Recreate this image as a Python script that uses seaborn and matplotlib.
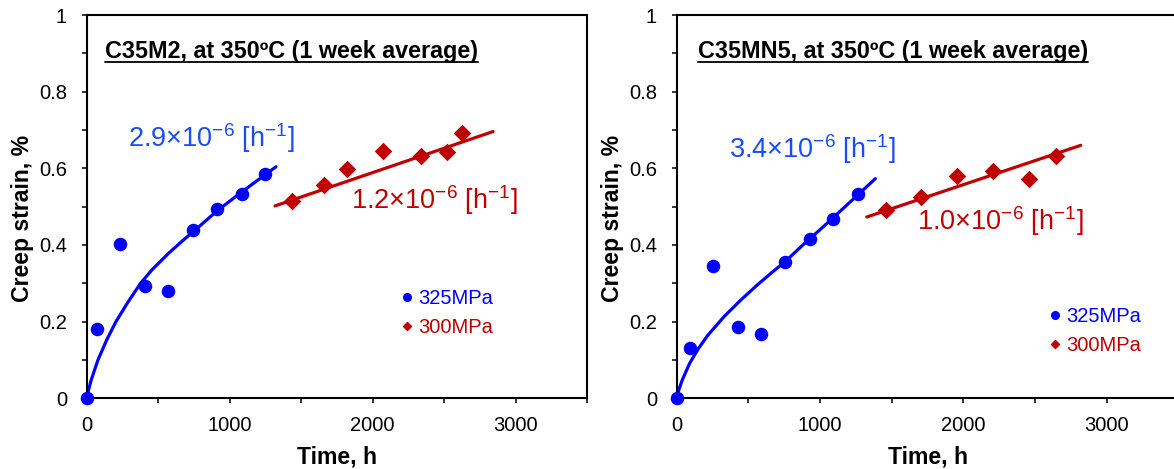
import seaborn as sns
import matplotlib.pyplot as plt
from matplotlib.lines import Line2D
from matplotlib.ticker import MultipleLocator, FuncFormatter

# ---- data (time in h, creep strain in %) ----
# C35M2, 325 MPa
m2_t_325 = [0, 70, 233, 410, 571, 746, 909, 1084, 1249]
m2_e_325 = [0, 0.180, 0.403, 0.294, 0.280, 0.438, 0.494, 0.534, 0.586]
# C35M2, 300 MPa
m2_t_300 = [1434, 1659, 1822, 2070, 2336, 2524, 2629]
m2_e_300 = [0.516, 0.557, 0.598, 0.646, 0.631, 0.642, 0.693]
# fitted curves as drawn in the picture
m2_fit325_t = [0, 12, 32, 79, 140, 205, 284, 377, 459, 575, 680, 750, 909, 1084, 1247, 1324]
m2_fit325_e = [0, 0.020, 0.048, 0.100, 0.152, 0.200, 0.248, 0.300, 0.336, 0.379, 0.414,
               0.436, 0.488, 0.538, 0.583, 0.604]
m2_fit300_t = [1318, 2843]
m2_fit300_e = [0.502, 0.696]

# C35MN5, 325 MPa
mn5_t_325 = [0, 91, 253, 428, 590, 754, 928, 1091, 1265]
mn5_e_325 = [0, 0.132, 0.346, 0.185, 0.167, 0.355, 0.416, 0.468, 0.534]
# C35MN5, 300 MPa
mn5_t_300 = [1461, 1705, 1958, 2209, 2458, 2647]
mn5_e_300 = [0.490, 0.526, 0.579, 0.592, 0.573, 0.633]
mn5_fit325_t = [0, 15, 39, 90, 150, 214, 330, 446, 563, 679, 749, 880, 1030, 1175, 1386]
mn5_fit325_e = [0, 0.022, 0.048, 0.091, 0.129, 0.163, 0.213, 0.256, 0.296, 0.333, 0.354,
                0.400, 0.450, 0.500, 0.573]
mn5_fit300_t = [1326, 2819]
mn5_fit300_e = [0.473, 0.660]

titles = ["C35M2, at 350ºC (1 week average)", "C35MN5, at 350ºC (1 week average)"]
rates_325 = [r"2.9×10$^{-6}$ [h$^{-1}$]", r"3.4×10$^{-6}$ [h$^{-1}$]"]
rates_300 = [r"1.2×10$^{-6}$ [h$^{-1}$]", r"1.0×10$^{-6}$ [h$^{-1}$]"]
legend_labels = ["325MPa", "300MPa"]

BLUE = "#0000ff"
BLUE_TXT = "#1a4bff"
RED = "#c00000"

sns.set_style("ticks")
plt.rcParams['font.family'] = ['Liberation Sans', 'DejaVu Sans']
plt.rcParams['mathtext.fontset'] = 'custom'
plt.rcParams['mathtext.rm'] = 'Liberation Sans'
plt.rcParams['mathtext.it'] = 'Liberation Sans:italic'
plt.rcParams['mathtext.bf'] = 'Liberation Sans:bold'
for k in ['text.color', 'axes.labelcolor', 'xtick.color', 'ytick.color', 'axes.edgecolor']:
    plt.rcParams[k] = 'black'

fig = plt.figure(figsize=(11.74, 4.69), dpi=100)
ax1 = fig.add_axes([0.0738, 0.1507, 0.4262, 0.8173])
ax2 = fig.add_axes([0.5764, 0.1507, 0.4273, 0.8173])

panels = [
    (ax1, m2_t_325, m2_e_325, m2_t_300, m2_e_300, m2_fit325_t, m2_fit325_e, m2_fit300_t, m2_fit300_e),
    (ax2, mn5_t_325, mn5_e_325, mn5_t_300, mn5_e_300, mn5_fit325_t, mn5_fit325_e, mn5_fit300_t, mn5_fit300_e),
]

# label positions (data coords) and legend anchors (axes coords)
rate325_pos = [(289, 0.656), (367, 0.626)]
rate300_pos = [(1848, 0.493), (1675, 0.439)]
title_x = [0.0366, 0.042]
legend_anchor = [(0.631, 0.286), (0.744, 0.239)]

title_texts = []
for i, (ax, t1, e1, t2, e2, ft1, fe1, ft2, fe2) in enumerate(panels):
    sns.lineplot(x=ft1, y=fe1, ax=ax, color=BLUE, lw=2.3, sort=False, estimator=None, zorder=2)
    sns.lineplot(x=ft2, y=fe2, ax=ax, color=RED, lw=2.3, sort=False, estimator=None, zorder=2)
    sns.scatterplot(x=t1, y=e1, ax=ax, color=BLUE, marker='o', s=95, linewidth=0, zorder=3,
                    clip_on=False)
    sns.scatterplot(x=t2, y=e2, ax=ax, color=RED, marker='D', s=80, linewidth=0, zorder=3)

    ax.set_xlim(0, 3500)
    ax.set_ylim(0, 1)
    ax.xaxis.set_major_locator(MultipleLocator(1000))
    ax.xaxis.set_minor_locator(MultipleLocator(500))
    ax.yaxis.set_major_locator(MultipleLocator(0.2))
    ax.yaxis.set_minor_locator(MultipleLocator(0.1))
    ax.yaxis.set_major_formatter(FuncFormatter(lambda v, p: f"{v:g}"))
    ax.tick_params(which='both', direction='out', length=3.6, width=1.1, color='black')
    ax.tick_params(axis='x', which='major', labelsize=14.5, pad=9.2)
    ax.tick_params(axis='y', which='major', labelsize=14.5, pad=10.5)
    for sp in ax.spines.values():
        sp.set_visible(True)
        sp.set_linewidth(1.5)
        sp.set_color('black')

    ax.set_xlabel("Time, h", fontsize=16.6, fontweight='bold')
    ax.set_ylabel("Creep strain, %", fontsize=16.6, fontweight='bold')
    ax.xaxis.set_label_coords(0.5, -0.122)
    ax.yaxis.set_label_coords(-0.105, 0.468)

    title_texts.append(ax.text(title_x[i], 0.887, titles[i], transform=ax.transAxes,
                               fontsize=16.8, fontweight='bold', va='baseline', ha='left'))
    ax.text(*rate325_pos[i], rates_325[i], color=BLUE_TXT, fontsize=19.5, va='baseline', ha='left')
    ax.text(*rate300_pos[i], rates_300[i], color=RED, fontsize=19.5, va='baseline', ha='left')

    handles = [Line2D([], [], ls='', marker='o', color=BLUE, markersize=5.5),
               Line2D([], [], ls='', marker='D', color=RED, markersize=3.8)]
    ax.legend(handles, legend_labels, loc='upper left', bbox_to_anchor=legend_anchor[i],
              frameon=False, fontsize=14.5, handlelength=0.5, handletextpad=0.3,
              labelspacing=0.5, borderpad=0, borderaxespad=0,
              labelcolor=[BLUE, RED])

# underline the panel titles
fig.canvas.draw()
renderer = fig.canvas.get_renderer()
for ax, txt in zip([ax1, ax2], title_texts):
    bb = txt.get_window_extent(renderer).transformed(ax.transAxes.inverted())
    ax.plot([bb.x0, bb.x1], [bb.y0 + 0.004, bb.y0 + 0.004], transform=ax.transAxes,
            color='black', lw=1.3, clip_on=False)

fig.savefig("out.png", dpi=100, facecolor='white')
